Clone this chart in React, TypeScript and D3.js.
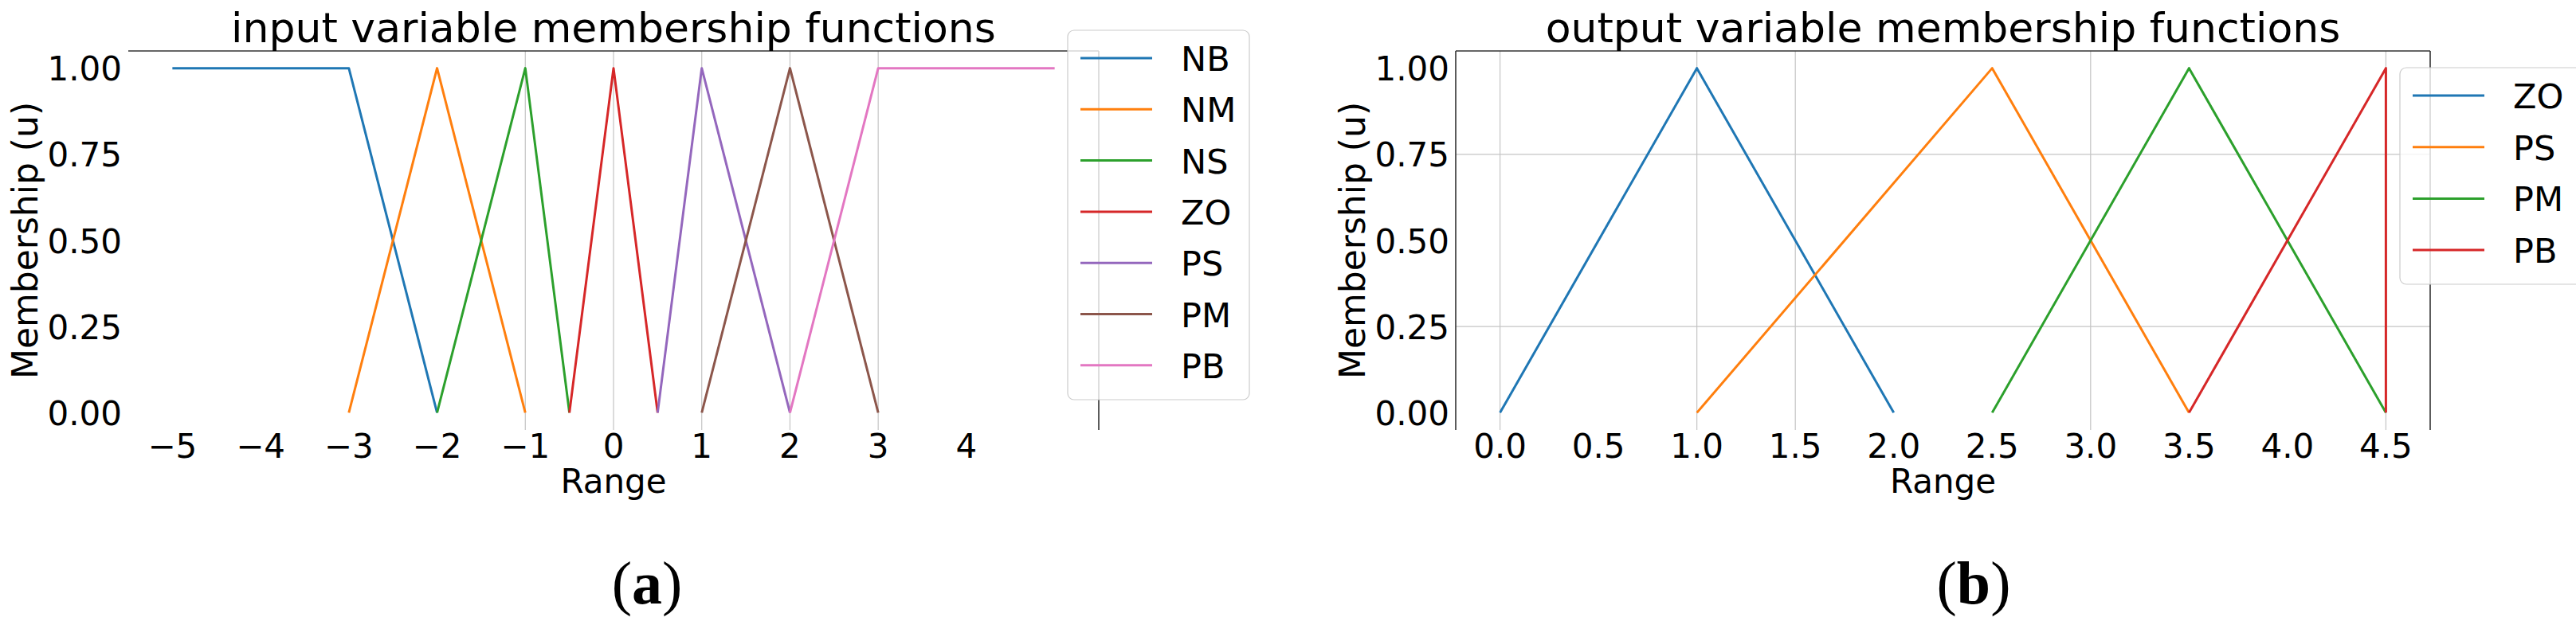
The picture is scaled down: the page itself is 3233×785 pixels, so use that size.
import React from "react";
import * as d3 from "d3";

// ---------- data ----------
const inputLabels = ["NB", "NM", "NS", "ZO", "PS", "PM", "PB"];
const inputXs = [
  [-5, -3, -2],
  [-3, -2, -1],
  [-2, -1, -0.5],
  [-0.5, 0, 0.5],
  [0.5, 1, 2],
  [1, 2, 3],
  [2, 3, 5],
];
const inputYs = [
  [1, 1, 0],
  [0, 1, 0],
  [0, 1, 0],
  [0, 1, 0],
  [0, 1, 0],
  [0, 1, 0],
  [0, 1, 1],
];

const outputLabels = ["ZO", "PS", "PM", "PB"];
const outputXs = [
  [0, 1, 2],
  [1, 2.5, 3.5],
  [2.5, 3.5, 4.5],
  [3.5, 4.5, 4.5],
];
const outputYs = [
  [0, 1, 0],
  [0, 1, 0],
  [0, 1, 0],
  [0, 1, 0],
];

const inputXTicks = [-5, -4, -3, -2, -1, 0, 1, 2, 3, 4];
const outputXTicks = [0, 0.5, 1, 1.5, 2, 2.5, 3, 3.5, 4, 4.5];
const yTicks = [0, 0.25, 0.5, 0.75, 1];

// grid lines that remain visible in the reference
const inputXGrid = [-1, 0, 1, 2, 3];
const inputYGrid: number[] = [];
const outputXGrid = [0, 1, 1.5, 3, 4.5];
const outputYGrid = [0.25, 0.75];

const palette = ["#1f77b4", "#ff7f0e", "#2ca02c", "#d62728", "#9467bd", "#8c564b", "#e377c2"];

const FONT = "'DejaVu Sans', sans-serif";

type PanelProps = {
  title: string;
  labels: string[];
  xs: number[][];
  ys: number[][];
  xTicks: number[];
  xFmt: (v: number) => string;
  xGrid: number[];
  yGrid: number[];
  box: { l: number; r: number; t: number; b: number };
  xDomain: [number, number];
  spines: { top: boolean; left: boolean; right: boolean };
  legend: { x: number; y: number; w: number; h: number; row0: number; step: number };
  caption: string;
  captionX: number;
};

function Panel(p: PanelProps) {
  const { box } = p;
  const x = d3.scaleLinear().domain(p.xDomain).range([box.l, box.r]);
  const y = d3.scaleLinear().domain([-0.05, 1.05]).range([box.b, box.t]);
  const line = d3
    .line<[number, number]>()
    .x((d) => x(d[0]))
    .y((d) => y(d[1]));
  const cx = (box.l + box.r) / 2;
  const cy = (box.t + box.b) / 2;
  const lg = p.legend;
  return (
    <g>
      {/* grid */}
      {p.xGrid.map((v) => (
        <line key={"gx" + v} x1={x(v)} x2={x(v)} y1={box.t} y2={box.b} stroke="#c4c4c4" strokeWidth={1.2} />
      ))}
      {p.yGrid.map((v) => (
        <line key={"gy" + v} x1={box.l} x2={box.r} y1={y(v)} y2={y(v)} stroke="#c4c4c4" strokeWidth={1.2} />
      ))}
      {/* series */}
      {p.xs.map((xs, i) => (
        <path
          key={"s" + i}
          d={line(xs.map((v, j) => [v, p.ys[i][j]] as [number, number])) || ""}
          fill="none"
          stroke={palette[i]}
          strokeWidth={3}
          strokeLinejoin="round"
        />
      ))}
      {/* spines */}
      {p.spines.top && <line x1={box.l} x2={box.r} y1={box.t} y2={box.t} stroke="#333" strokeWidth={1.6} />}
      {p.spines.left && <line x1={box.l} x2={box.l} y1={box.t} y2={box.b} stroke="#333" strokeWidth={1.6} />}
      {p.spines.right && <line x1={box.r} x2={box.r} y1={box.t} y2={box.b} stroke="#333" strokeWidth={1.6} />}
      {/* tick labels */}
      {p.xTicks.map((v) => (
        <text key={"xt" + v} x={x(v)} y={575} textAnchor="middle" fontSize={42} fontFamily={FONT} fill="#000">
          {p.xFmt(v)}
        </text>
      ))}
      {yTicks.map((v) => (
        <text key={"yt" + v} x={box.l - 8} y={y(v) + 15.5} textAnchor="end" fontSize={42} fontFamily={FONT} fill="#000">
          {v.toFixed(2)}
        </text>
      ))}
      {/* axis labels */}
      <text x={cx} y={619} textAnchor="middle" fontSize={42} fontFamily={FONT} fill="#000">
        Range
      </text>
      <text
        transform={`translate(${box.l - 114},${cy}) rotate(-90)`}
        textAnchor="middle"
        fontSize={44}
        fontFamily={FONT}
        fill="#000"
      >
        Membership (u)
      </text>
      {/* title */}
      <text x={cx} y={53} textAnchor="middle" fontSize={52} fontFamily={FONT} fill="#000">
        {p.title}
      </text>
      {/* legend */}
      <rect
        x={lg.x}
        y={lg.y}
        width={lg.w}
        height={lg.h}
        rx={8}
        ry={8}
        fill="#fff"
        fillOpacity={0.8}
        stroke="#cccccc"
        strokeWidth={1.2}
      />
      {p.labels.map((name, i) => {
        const ry = lg.row0 + i * lg.step;
        return (
          <g key={"lg" + name}>
            <line x1={lg.x + 16} x2={lg.x + 106} y1={ry} y2={ry} stroke={palette[i]} strokeWidth={3} />
            <text x={lg.x + 142} y={ry + 16} fontSize={43} fontFamily={FONT} fill="#000">
              {name}
            </text>
          </g>
        );
      })}
      {/* caption */}
      <text x={p.captionX} y={758} textAnchor="middle" fontSize={76} fontFamily="'Liberation Serif', 'Times New Roman', serif" fill="#000">
        (<tspan fontWeight="bold">{p.caption}</tspan>)
      </text>
    </g>
  );
}

export default function App() {
  return (
    <svg
      width={3233}
      height={785}
      viewBox="0 0 3233 785"
      style={{ position: "absolute", left: 0, top: 0, background: "#fff" }}
    >
      <rect x={0} y={0} width={3233} height={785} fill="#fff" />
      <Panel
        title="input variable membership functions"
        labels={inputLabels}
        xs={inputXs}
        ys={inputYs}
        xTicks={inputXTicks}
        xFmt={(v) => String(v).replace("-", "\u2212")}
        xGrid={inputXGrid}
        yGrid={inputYGrid}
        box={{ l: 161, r: 1379, t: 64, b: 540 }}
        xDomain={[-5.5, 5.5]}
        spines={{ top: true, left: false, right: true }}
        legend={{ x: 1340, y: 38, w: 228, h: 464, row0: 73, step: 64.3 }}
        caption="a"
        captionX={812}
      />
      <Panel
        title="output variable membership functions"
        labels={outputLabels}
        xs={outputXs}
        ys={outputYs}
        xTicks={outputXTicks}
        xFmt={(v) => v.toFixed(1)}
        xGrid={outputXGrid}
        yGrid={outputYGrid}
        box={{ l: 1827, r: 3050, t: 64, b: 540 }}
        xDomain={[-0.225, 4.725]}
        spines={{ top: true, left: true, right: true }}
        legend={{ x: 3012, y: 85, w: 240, h: 272, row0: 120, step: 64.7 }}
        caption="b"
        captionX={2477}
      />
    </svg>
  );
}
